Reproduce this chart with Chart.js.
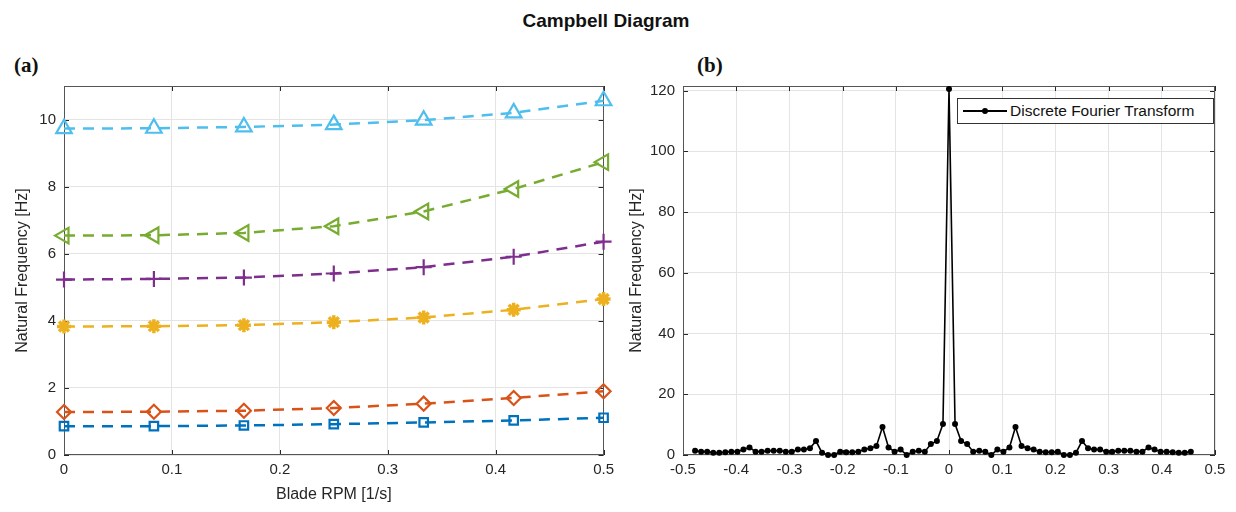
<!DOCTYPE html>
<html>
<head>
<meta charset="utf-8">
<script src="https://cdn.jsdelivr.net/npm/chart.js@4.4.1/dist/chart.umd.min.js"></script>
<style>
  body { margin: 0; background: #fff; width: 1236px; height: 512px; position: relative; overflow: hidden;
         font-family: "Liberation Sans", Arial, sans-serif; }
  #title { position: absolute; top: 10px; left: 0; width: 1212px; text-align: center;
           font-weight: bold; font-size: 19px; color: #111; }
  .tag { position: absolute; top: 53px; font-family: "Liberation Serif", "Times New Roman", serif;
         font-weight: bold; font-size: 21px; color: #111; }
  .box { position: absolute; top: 69px; height: 441px; }
  #legend { position: absolute; left: 957px; top: 98px; width: 255px; height: 24px; background: #fff;
            border: 1px solid #333; font-size: 15.5px; color: #111; line-height: 24px; }
  #legend .sym { position: absolute; left: 5px; top: 11px; width: 44px; height: 2px; background: #000; }
  #legend .sym i { position: absolute; left: 19px; top: -2px; width: 6px; height: 6px; border-radius: 3px; background: #000; }
  #legend span { position: absolute; left: 52px; top: 0; }
</style>
</head>
<body>
<div id="title">Campbell Diagram</div>
<div class="tag" style="left:14px">(a)</div>
<div class="tag" style="left:697px">(b)</div>
<div class="box" style="left:0;width:620px"><canvas id="campbell"></canvas></div>
<div class="box" style="left:620px;width:616px"><canvas id="dft"></canvas></div>
<div id="legend"><div class="sym"><i></i></div><span id="legendText"></span></div>
<script>
// (a) Campbell diagram: natural frequency of each mode vs blade RPM
const rpm = [0, 0.0833, 0.1667, 0.25, 0.3333, 0.4167, 0.5];
const mode1 = [0.86, 0.86, 0.88, 0.92, 0.97, 1.03, 1.11];
const mode2 = [1.28, 1.29, 1.32, 1.40, 1.53, 1.70, 1.90];
const mode3 = [3.83, 3.84, 3.87, 3.96, 4.10, 4.33, 4.65];
const mode4 = [5.23, 5.25, 5.29, 5.41, 5.60, 5.91, 6.36];
const mode5 = [6.54, 6.55, 6.62, 6.82, 7.26, 7.93, 8.73];
const mode6 = [9.73, 9.74, 9.78, 9.85, 9.98, 10.20, 10.56];
const rpmTicks = [0, 0.1, 0.2, 0.3, 0.4, 0.5];
const freqTicksA = [0, 2, 4, 6, 8, 10];

// (b) DFT magnitude, bins of 1/88
const dftSamples = 88;
const dftBins = [-42, -41, -40, -39, -38, -37, -36, -35, -34, -33, -32, -31, -30, -29, -28, -27, -26, -25, -24, -23, -22,
  -21, -20, -19, -18, -17, -16, -15, -14, -13, -12, -11, -10, -9, -8, -7, -6, -5, -4, -3, -2, -1, 0,
  1, 2, 3, 4, 5, 6, 7, 8, 9, 10, 11, 12, 13, 14, 15, 16, 17, 18, 19, 20, 21,
  22, 23, 24, 25, 26, 27, 28, 29, 30, 31, 32, 33, 34, 35, 36, 37, 38, 39, 40];
const dftAmp = [1.4, 1.1, 1.1, 0.7, 0.7, 0.9, 1.1, 1.1, 1.8, 2.5, 1.1, 1.1, 1.4, 1.4, 1.4, 1.1, 1.1, 1.8, 1.8, 2.2, 4.6,
  0.7, 0, 0, 1.1, 0.9, 0.9, 1.1, 1.8, 2.2, 3.0, 9.2, 2.5, 1.1, 1.8, 0, 1.1, 1.4, 1.1, 3.6, 4.6, 10.2, 120.5,
  10.2, 4.6, 3.6, 1.1, 1.4, 1.1, 0, 1.8, 1.1, 2.5, 9.2, 3.0, 2.2, 1.8, 1.1, 0.9, 0.9, 1.1, 0, 0, 0.7,
  4.6, 2.2, 1.8, 1.8, 1.1, 1.1, 1.4, 1.4, 1.4, 1.1, 1.1, 2.5, 1.8, 1.1, 1.1, 0.9, 0.7, 0.7, 1.1];
const xTicksB = [-0.5, -0.4, -0.3, -0.2, -0.1, 0, 0.1, 0.2, 0.3, 0.4, 0.5];
const freqTicksB = [0, 20, 40, 60, 80, 100, 120];

Chart.defaults.font.family = '"Liberation Sans", Arial, sans-serif';
Chart.defaults.color = '#262626';

const fmt = v => String(Math.round(v * 10) / 10);

// box around the axes plus MATLAB-style inward tick marks
const framePlugin = {
  id: 'frame',
  beforeDatasetsDraw(chart) {
    const { ctx, chartArea: a, scales } = chart;
    ctx.save();
    ctx.strokeStyle = '#262626';
    ctx.lineWidth = 1;
    ctx.beginPath();
    scales.x.ticks.forEach(t => {
      const px = Math.round(scales.x.getPixelForValue(t.value)) + 0.5;
      ctx.moveTo(px, a.bottom); ctx.lineTo(px, a.bottom - 5);
      ctx.moveTo(px, a.top); ctx.lineTo(px, a.top + 5);
    });
    scales.y.ticks.forEach(t => {
      const py = Math.round(scales.y.getPixelForValue(t.value)) + 0.5;
      ctx.moveTo(a.left, py); ctx.lineTo(a.left + 5, py);
      ctx.moveTo(a.right, py); ctx.lineTo(a.right - 5, py);
    });
    ctx.stroke();
    ctx.strokeStyle = '#555';
    ctx.strokeRect(Math.round(a.left) + 0.5, Math.round(a.top) + 0.5,
      Math.round(a.width) - 1, Math.round(a.height) - 1);
    ctx.restore();
  }
};

function axes(xMin, xMax, xStep, xList, yMax, yStep, yList, xTitle, yWidth, yTitlePad) {
  return {
    x: {
      type: 'linear', min: xMin, max: xMax,
      afterBuildTicks: s => { s.ticks = xList.map(v => ({ value: v })); },
      ticks: { stepSize: xStep, callback: fmt, font: { size: 15 }, padding: 6, maxRotation: 0 },
      grid: { color: '#e4e4e4', drawTicks: false },
      border: { display: false },
      title: { display: !!xTitle, text: xTitle, font: { size: 16 }, padding: { top: 1, bottom: 6 } },
      afterFit: s => { s.height = 55; }
    },
    y: {
      min: 0, max: yMax,
      afterBuildTicks: s => { s.ticks = yList.map(v => ({ value: v })); },
      ticks: { stepSize: yStep, font: { size: 15 }, padding: 8 },
      grid: { color: '#e4e4e4', drawTicks: false },
      border: { display: false },
      title: { display: true, text: 'Natural Frequency [Hz]', font: { size: 16 }, padding: { top: yTitlePad, bottom: 4 } },
      afterFit: s => { s.width = yWidth; }
    }
  };
}

const modes = [
  { label: 'Mode 1', data: mode1, color: '#0072BD', style: 'rect', r: 6, rot: 0 },
  { label: 'Mode 2', data: mode2, color: '#D95319', style: 'rectRot', r: 7, rot: 0 },
  { label: 'Mode 3', data: mode3, color: '#EDB120', style: 'star', r: 7, rot: 0 },
  { label: 'Mode 4', data: mode4, color: '#7E2F8E', style: 'cross', r: 8, rot: 0 },
  { label: 'Mode 5', data: mode5, color: '#77AC30', style: 'triangle', r: 9, rot: -90 },
  { label: 'Mode 6', data: mode6, color: '#4DBEEE', style: 'triangle', r: 9, rot: 0 }
];

new Chart(document.getElementById('campbell'), {
  type: 'line',
  data: {
    datasets: modes.map(m => ({
      label: m.label,
      data: rpm.map((x, i) => ({ x: x, y: m.data[i] })),
      borderColor: m.color,
      borderWidth: 2.5,
      borderDash: [11, 8],
      pointStyle: m.style,
      pointRadius: m.r,
      pointRotation: m.rot,
      pointBorderColor: m.color,
      pointBorderWidth: m.style === 'star' ? 3.5 : 2.2,
      pointBackgroundColor: 'rgba(0,0,0,0)',
      fill: false,
      tension: 0,
      clip: false
    }))
  },
  options: {
    responsive: true,
    maintainAspectRatio: false,
    animation: false,
    layout: { padding: { top: 0, right: 15, left: 0, bottom: 0 } },
    plugins: { legend: { display: false }, tooltip: { enabled: false } },
    scales: axes(0, 0.5, 0.1, rpmTicks, 11, 2, freqTicksA, 'Blade RPM [1/s]', 64, 13)
  },
  plugins: [framePlugin]
});

const dftLabel = 'Discrete Fourier Transform';
document.getElementById('legendText').textContent = dftLabel;

new Chart(document.getElementById('dft'), {
  type: 'line',
  data: {
    datasets: [{
      label: dftLabel,
      data: dftBins.map((k, i) => ({ x: k / dftSamples, y: dftAmp[i] })),
      borderColor: '#000',
      borderWidth: 1.6,
      pointRadius: 3,
      pointBackgroundColor: '#000',
      pointBorderWidth: 0,
      fill: false,
      tension: 0,
      clip: false
    }]
  },
  options: {
    responsive: true,
    maintainAspectRatio: false,
    animation: false,
    layout: { padding: { top: 0, right: 21, left: 0, bottom: 0 } },
    plugins: { legend: { display: false }, tooltip: { enabled: false } },
    scales: axes(-0.5, 0.5, 0.1, xTicksB, 121.5, 20, freqTicksB, '', 63, 7)
  },
  plugins: [framePlugin]
});
</script>
</body>
</html>
